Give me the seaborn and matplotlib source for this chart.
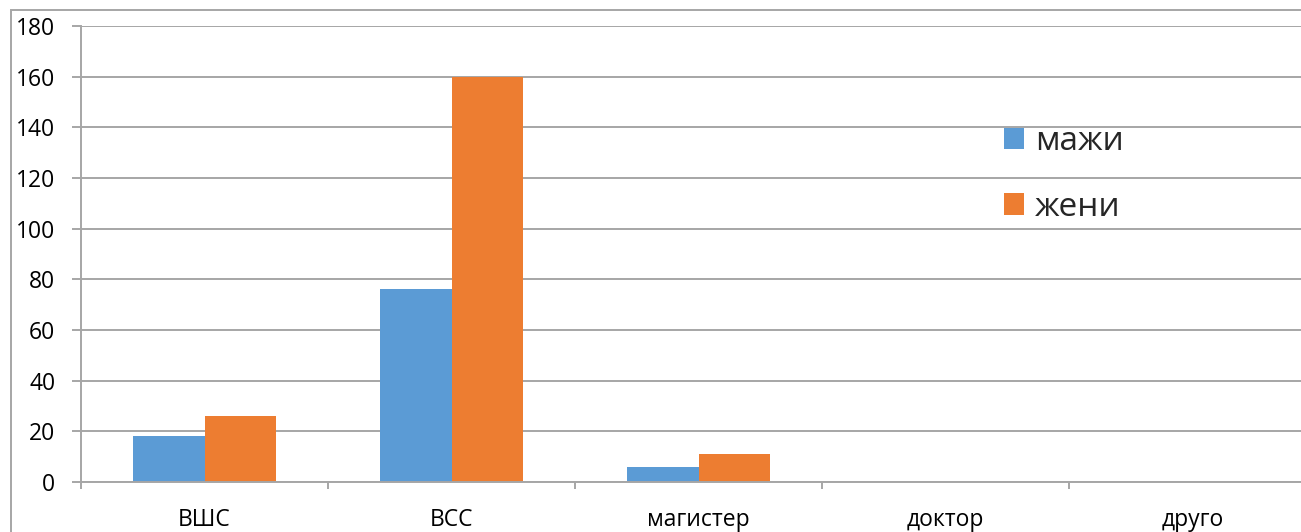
import matplotlib
matplotlib.use("Agg")
import matplotlib.pyplot as plt
from matplotlib.patches import Rectangle, Patch
from matplotlib.ticker import FixedLocator
import pandas as pd
import seaborn as sns

# Data
categories = ["ВШС", "ВСС", "магистер", "доктор", "друго"]
men = [18, 76, 6, 0, 0]
women = [26, 160, 11, 0, 0]
series_names = ["мажи", "жени"]
y_ticks = [0, 20, 40, 60, 80, 100, 120, 140, 160, 180]

colors = ["#5B9BD5", "#ED7D31"]
grid_color = "#A6A6A6"

sns.set_theme(style="white")
plt.rcParams["font.family"] = ["Open Sans", "DejaVu Sans"]

df = pd.DataFrame({
    "category": categories * 2,
    "value": men + women,
    "series": [series_names[0]] * len(categories) + [series_names[1]] * len(categories),
})

W, H = 1301, 532
fig = plt.figure(figsize=(W / 100, H / 100), dpi=100)
fig.patch.set_facecolor("white")

left, right, top, bottom = 81, 1316, 26, 482
ax = fig.add_axes([left / W, 1 - bottom / H, (right - left) / W, (bottom - top) / H])

sns.barplot(data=df, x="category", y="value", hue="series", order=categories,
            hue_order=series_names, palette=colors, width=0.575, gap=0,
            saturation=1, edgecolor="none", legend=False, ax=ax)

ax.set_xlim(-0.5, len(categories) - 0.5)
ax.set_ylim(0, 180)
ax.set_xlabel("")
ax.set_ylabel("")

# Gridlines and spines
ax.set_yticks(y_ticks)
ax.yaxis.grid(True, color=grid_color, linewidth=1.4)
ax.xaxis.grid(False)
ax.set_axisbelow(True)
for s in ["top", "right"]:
    ax.spines[s].set_visible(False)
for s in ["left", "bottom"]:
    ax.spines[s].set_color(grid_color)
    ax.spines[s].set_linewidth(1.4)

# Tick marks between categories, labels at centres
ax.xaxis.set_minor_locator(FixedLocator([i - 0.5 for i in range(len(categories) + 1)]))
ax.tick_params(axis="x", which="major", length=0, pad=19, labelsize=16.5, colors="black")
ax.tick_params(axis="x", which="minor", direction="out", length=5, width=1.4,
               color=grid_color, bottom=True)
ax.tick_params(axis="y", which="major", direction="out", length=6.5, width=1.4,
               color=grid_color, pad=12, labelsize=16.5, labelcolor="black", left=True)

# Legend
handles = [Patch(facecolor=c, edgecolor="none") for c in colors]
fig.legend(handles, series_names, loc="center left",
           bbox_to_anchor=(1004 / W, 1 - 174.5 / H), frameon=False,
           fontsize=24, handlelength=0.6, handleheight=0.6,
           handletextpad=0.33, labelspacing=0.98, borderpad=0, borderaxespad=0)

# Chart area frame
fig.add_artist(Rectangle((11 / W, -0.1), 1.2, 1.1 - 10 / H, transform=fig.transFigure,
                         fill=False, edgecolor="#A6A6A6", linewidth=1.4))

fig.savefig("out.png", dpi=100, facecolor="white")
